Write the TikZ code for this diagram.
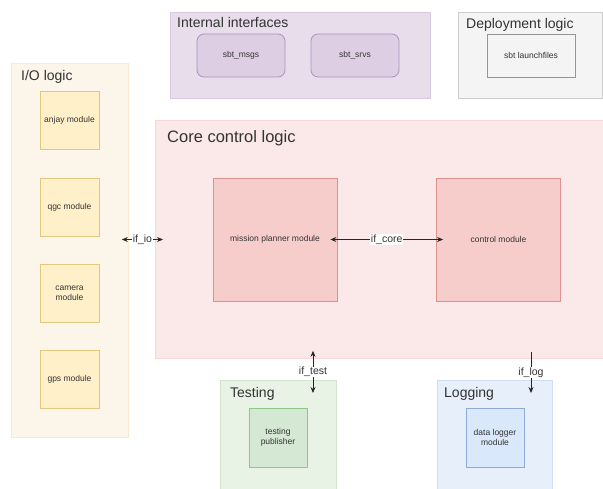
\documentclass[tikz,border=0pt]{standalone}
\usepackage{fontspec}
\setmainfont{Liberation Sans}
\usepackage{tikz}
\usetikzlibrary{
  arrows.meta,
  positioning
}
\definecolor{TextGray}{HTML}{333333}
% container / module colours per group
\definecolor{IntfBg}{HTML}{E7DDEB}
\definecolor{IntfEdge}{HTML}{D8C9E0}
\definecolor{IntfBox}{HTML}{DDCEE4}
\definecolor{IntfLine}{HTML}{AD92BE}
\definecolor{DeplBg}{HTML}{F4F4F4}
\definecolor{DeplEdge}{HTML}{CDCDCD}
\definecolor{DeplBox}{HTML}{F4F4F4}
\definecolor{DeplLine}{HTML}{959595}
\definecolor{IOBg}{HTML}{FCF5E9}
\definecolor{IOEdge}{HTML}{F9EBCF}
\definecolor{IOBox}{HTML}{FFF0C9}
\definecolor{IOLine}{HTML}{E3C77D}
\definecolor{CoreBg}{HTML}{FBE9E9}
\definecolor{CoreEdge}{HTML}{F6D8D8}
\definecolor{CoreBox}{HTML}{F7CDCC}
\definecolor{CoreLine}{HTML}{DA9291}
\definecolor{TestBg}{HTML}{E8F2E5}
\definecolor{TestEdge}{HTML}{D3E6CD}
\definecolor{TestBox}{HTML}{D5E8D4}
\definecolor{TestLine}{HTML}{93C488}
\definecolor{LogBg}{HTML}{E7EFFA}
\definecolor{LogEdge}{HTML}{D0DEF3}
\definecolor{LogBox}{HTML}{DAE8FC}
\definecolor{LogLine}{HTML}{8EAAD6}
\tikzset{
  % Group container
  grp/.style={
    rectangle, anchor=north west, inner sep=0pt,
    draw=#1Edge, fill=#1Bg, line width=0.8pt
  },
  % Group title
  ttl/.style={
    anchor=north west, inner sep=0pt,
    font=\fontsize{14}{16}\selectfont, text=TextGray
  },
  % Module box
  mod/.style={
    rectangle, draw=#1Line, fill=#1Box, line width=0.8pt,
    align=center, inner sep=2pt,
    font=\fontsize{8.5}{10}\selectfont, text=TextGray
  },
  % Arrows
  arr/.style={
    -{Stealth[length=6pt,width=5pt]},
    line width=0.8pt, draw=black!85
  },
  biarr/.style={
    {Stealth[length=6pt,width=5pt]}-{Stealth[length=6pt,width=5pt]},
    line width=0.8pt, draw=black!85
  },
  % Edge label
  lbl/.style={fill=white, inner sep=0.5pt, font=\fontsize{10.5}{12}\selectfont, text=TextGray}
}
\begin{document}
\begin{tikzpicture}[x=1pt, y=-1pt]
  \useasboundingbox[fill=white] (0,0) rectangle (603,488);

  % groups
  \node[grp=Intf, minimum width=260pt, minimum height=86pt]  (intf)   at (170,12)  {};
  \node[grp=Depl, minimum width=144pt, minimum height=86pt]  (deploy) at (458,12)  {};
  \node[grp=IO,   minimum width=117pt, minimum height=374pt] (io)     at (11,63)   {};
  \node[grp=Core, minimum width=450pt, minimum height=238pt] (core)   at (155,120) {};
  \node[grp=Test, minimum width=116pt, minimum height=115pt] (test)   at (220,380) {};
  \node[grp=Log,  minimum width=115pt, minimum height=115pt] (log)    at (437,380) {};

  \node[ttl, below right=5pt and 7pt of intf.north west]   {Internal interfaces};
  \node[ttl, below right=6pt and 8pt of deploy.north west] {Deployment logic};
  \node[ttl, below right=7pt and 10pt of io.north west]    {I/O logic};
  \node[ttl, below right=10pt and 12pt of core.north west, font=\fontsize{16.5}{18}\selectfont] {Core control logic};
  \node[ttl, below right=7pt and 10pt of test.north west]  {Testing};
  \node[ttl, below right=7pt and 7pt of log.north west]    {Logging};

  % modules
  \node[mod=Intf, rounded corners=7pt, minimum width=88pt, minimum height=43pt] (msgs) at (241,55.5) {sbt\_msgs};
  \node[mod=Intf, rounded corners=7pt, minimum width=88pt, minimum height=43pt] (srvs) at (355,55.5) {sbt\_srvs};
  \node[mod=Depl, minimum width=88pt, minimum height=43pt] (launch) at (531,55.5) {sbt launchfiles};

  \node[mod=IO, minimum width=59pt, minimum height=58pt] (anjay)  at (69.5,120)   {anjay module};
  \node[mod=IO, minimum width=59pt, minimum height=58pt] (qgc)    at (69.5,207)   {qgc module};
  \node[mod=IO, minimum width=59pt, minimum height=58pt] (camera) at (69.5,293.5) {camera\\module};
  \node[mod=IO, minimum width=59pt, minimum height=58pt] (gps)    at (69.5,379.5) {gps module};

  \node[mod=Core, minimum width=124pt, minimum height=123pt] (mpm)  at (275,239.5)   {mission planner module};
  \node[mod=Core, minimum width=124pt, minimum height=123pt] (ctrl) at (498.5,239.5) {control module};

  \node[mod=Test, minimum width=58pt, minimum height=59pt] (pub)    at (278,437.5) {testing\\publisher};
  \node[mod=Log,  minimum width=58pt, minimum height=59pt] (logger) at (495,437.5) {data logger\\module};

  % interfaces
  \coordinate (tstx) at (313,0);
  \coordinate (logx) at (531,0);
  \draw[biarr] ([xshift=-7pt]io.east |- mpm.west) -- node[lbl]{if\_io} ([xshift=8pt]core.west |- mpm.west);
  \draw[biarr] ([xshift=-7pt]mpm.east) -- node[lbl]{if\_core} ([xshift=7pt]ctrl.west);
  \draw[biarr] ([yshift=8pt]core.south -| tstx) -- node[lbl]{if\_test} ([yshift=-13pt]test.north -| tstx);
  \draw[arr]   ([yshift=7pt]core.south -| logx) -- node[lbl]{if\_log} ([yshift=-13pt]log.north -| logx);
\end{tikzpicture}
\end{document}
